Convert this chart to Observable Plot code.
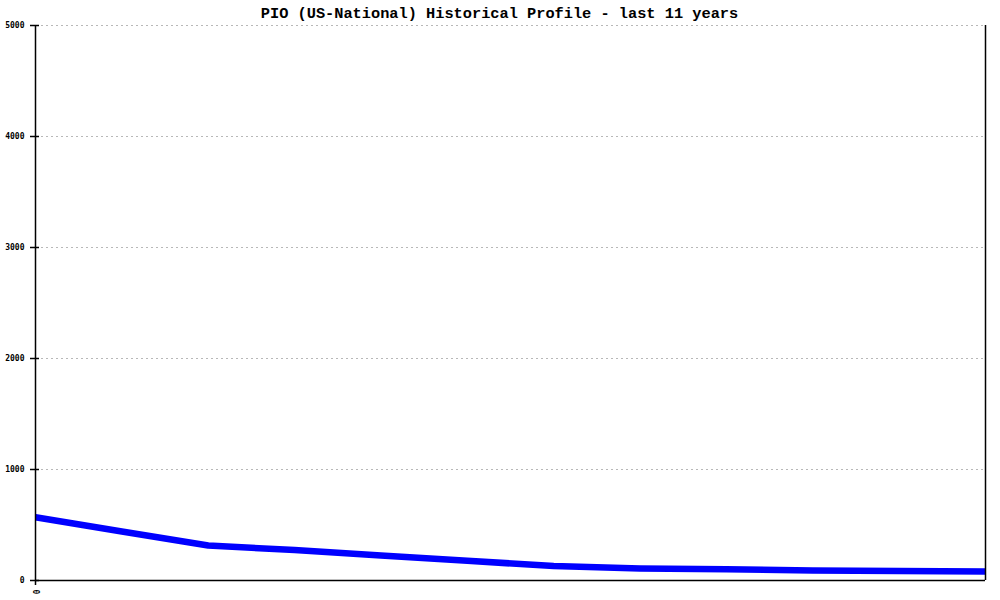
<!DOCTYPE html>
<html>
<head>
<meta charset="utf-8">
<script src="https://cdn.jsdelivr.net/npm/d3@7"></script>
<script src="https://cdn.jsdelivr.net/npm/@observablehq/plot@0.6"></script>
<style>
  html, body { margin: 0; padding: 0; background: #ffffff; }
  #chart { width: 1000px; height: 600px; }
</style>
</head>
<body>
<div id="chart"></div>
<script>
const titleText = "PIO (US-National) Historical Profile - last 11 years";
const periods = [0, 1, 2, 3, 4, 5, 6, 7, 8, 9, 10, 11];
const values = [570, 441, 315, 274, 225, 177, 131, 108, 102, 90, 86, 81];
const yTicks = [0, 1000, 2000, 3000, 4000, 5000];
const xTicks = [0];

const data = periods.map((p, i) => ({ period: p, value: values[i] }));

const chart = Plot.plot({
  width: 1000,
  height: 600,
  marginLeft: 35,
  marginRight: 15,
  marginTop: 25,
  marginBottom: 20,
  style: { background: "#ffffff", overflow: "visible" },
  x: { domain: [0, 11] },
  y: { domain: [0, 5000] },
  marks: [
    Plot.gridY(yTicks, { stroke: "#b8b8b8", strokeOpacity: 1, strokeDasharray: "2,3", insetLeft: 6 }),
    Plot.line(data, { x: "period", y: "value", stroke: "#0000ff", strokeWidth: 6.5, strokeLinejoin: "round", strokeLinecap: "butt" }),
    Plot.ruleX([periods[0]], { stroke: "#000", strokeWidth: 1.5, insetBottom: -5 }),
    Plot.ruleX([periods[periods.length - 1]], { stroke: "#000", strokeWidth: 1.5 }),
    Plot.ruleY([0], { stroke: "#000", strokeWidth: 1.5 }),
    Plot.ruleY(yTicks, { stroke: "#000", strokeWidth: 1.5, insetLeft: -5, insetRight: 946 }),
    Plot.axisY({ ticks: yTicks, tickSize: 0, tickPadding: 11, tickFormat: d => String(d),
      fontFamily: "DejaVu Sans Mono", fontSize: 8, fontWeight: "bold", fill: "#000", label: null }),
    Plot.axisX({ ticks: xTicks, tickSize: 0, tickPadding: 9, tickRotate: 90, tickFormat: d => String(d),
      fontFamily: "DejaVu Sans Mono", fontSize: 8, fontWeight: "bold", fill: "#000", label: null }),
    Plot.text([titleText], { text: d => d, frameAnchor: "top", lineAnchor: "middle", dy: -12, dx: -11,
      fontFamily: "Liberation Mono", fontSize: 15.3, fontWeight: "bold", fill: "#000" })
  ]
});
document.getElementById("chart").appendChild(chart);
</script>
</body>
</html>
